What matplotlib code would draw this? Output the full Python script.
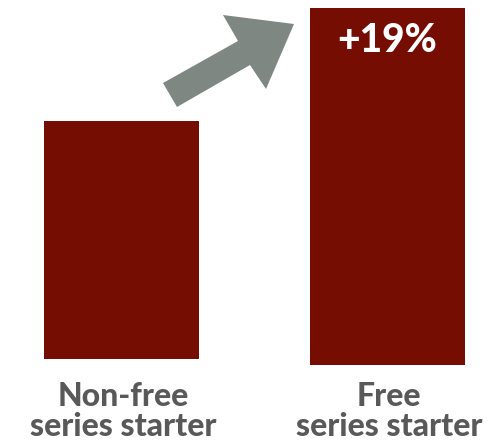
import matplotlib.pyplot as plt
from matplotlib.patches import Polygon

# Relative readership index for the two groups
groups = ["Non-free\nseries starter", "Free\nseries starter"]
values = [100, 119]
baselines = [60, 59]
change_label = "+19%"

bar_color = "#760d03"
label_color = "#595959"
arrow_color = "#7f8783"

W, H = 496, 441
fig = plt.figure(figsize=(W / 100, H / 100), dpi=100)
ax = fig.add_axes([0, 0, 1, 1])

x = list(range(len(groups)))
heights = [v - b for v, b in zip(values, baselines)]
ax.bar(x, heights, bottom=baselines, width=0.583, color=bar_color)

ax.set_xlim(-0.457, 1.408)
ax.set_ylim(46.2, 120.35)
ax.axis("off")

# Group labels under the bars
for xi, g in zip(x, groups):
    ax.text(xi + 0.005, 56.2, g, ha="center", va="top", fontsize=23,
            fontweight="black", family="Lato", color=label_color,
            linespacing=1.08)

# Change label inside the taller bar
ax.text(x[1], values[1] - 2.4, change_label, ha="center", va="top",
        fontsize=28, fontweight="black", family="Lato", color="white")

# Upward arrow between the bars (pixel coordinates, y from top)
pts = [(163, 83), (177, 107), (250, 65), (266, 89), (294, 24),
       (223, 15), (238, 41)]
pts = [(px / W, 1 - py / H) for px, py in pts]
fig.patches.append(Polygon(pts, closed=True, transform=fig.transFigure,
                           facecolor=arrow_color, edgecolor="none"))

fig.savefig("out.png", dpi=100)
